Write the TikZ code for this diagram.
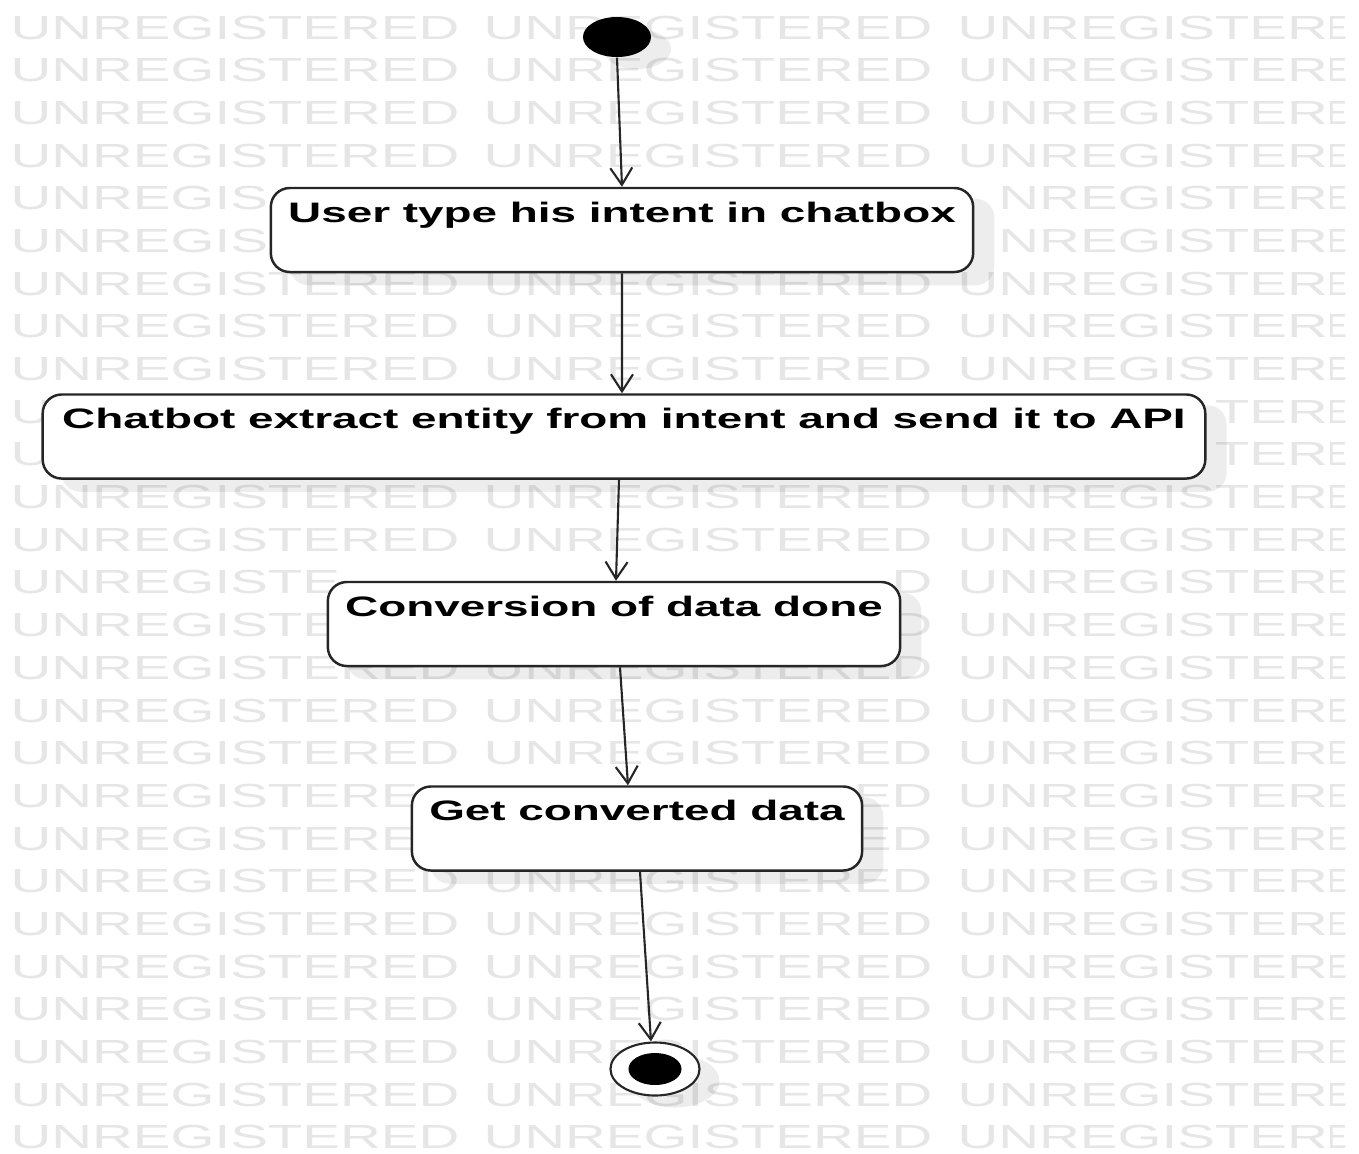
\documentclass[tikz,border=0pt]{standalone}
\usepackage{fontspec}
\setmainfont{Liberation Sans}
\usetikzlibrary{arrows.meta,calc,shapes.geometric}
\pgfdeclarelayer{bg}
\pgfsetlayers{bg,main}
\definecolor{wm}{HTML}{E6E6E6}
\tikzset{
  act/.style={draw=black!85, line width=0.7pt, fill=white, rounded corners=0.19cm,
    inner xsep=0pt, inner ysep=0pt, text height=0.34cm, text depth=0.50cm,
    font=\bfseries\fontsize{8}{9}\selectfont},
  flow/.style={draw=black!85, line width=0.6pt, -{Straight Barb[length=0.17cm,width=0.22cm,line width=0.6pt]}},
  shadowbox/.style={fill=black, opacity=0.07, rounded corners=0.19cm},
  wmtext/.style={text=wm, inner sep=0pt, anchor=base west, font=\fontsize{9.5}{10}\selectfont}
}
\newcommand{\stretchtxt}[1]{\scalebox{1.63}[1]{#1}}
\newcommand{\wmw}[1]{\scalebox{1.69}[1]{#1}}
\newcommand{\wmph}[1]{\phantom{\wmw{#1}}}
\newcommand{\wmend}{\scalebox{0.85}[1]{E}}
\newcommand{\wmrow}[5]{%
  \node[wmtext] (wm-#1-a) at (10,#2) {#3};
  \node[wmtext] (wm-#1-b) at (483,#2) {#4};
  \node[wmtext] (wm-#1-c) at (957,#2) {#5};}
\begin{document}
\begin{tikzpicture}[x=0.01cm,y=-0.01cm]
\useasboundingbox (0,0) rectangle (1359,1153);
% watermark
\begin{pgfonlayer}{bg}
\fill[white] (0,0) rectangle (1359,1153);
\foreach \r in {0,...,26}{
  \pgfmathsetmacro{\yy}{39+42.69*\r}
  \ifnum\r=4 \wmrow{\r}{\yy}{\wmw{UNREGIS}}{}{\wmph{U}\wmw{NREGISTER}\wmend}
  \else\ifnum\r=5 \wmrow{\r}{\yy}{\wmw{UNREGIS}}{}{\wmph{U}\wmw{NREGISTER}\wmend}
  \else\ifnum\r=9 \wmrow{\r}{\yy}{\wmw{U}}{}{\wmph{UNREGIS}\wmw{TER}\wmend}
  \else\ifnum\r=10 \wmrow{\r}{\yy}{\wmw{U}}{}{\wmph{UNREGIS}\wmw{TER}\wmend}
  \else\ifnum\r=13 \wmrow{\r}{\yy}{\wmw{UNREGISTE}}{\wmph{UNREGISTERE}\wmw{D}}{\wmw{UNREGISTER}\wmend}
  \else\ifnum\r=14 \wmrow{\r}{\yy}{\wmw{UNREGISTE}}{\wmph{UNREGISTERE}\wmw{D}}{\wmw{UNREGISTER}\wmend}
  \else\ifnum\r=18 \wmrow{\r}{\yy}{\wmw{UNREGISTERE}}{\wmph{UNREGISTER}\wmw{ED}}{\wmw{UNREGISTER}\wmend}
  \else\ifnum\r=19 \wmrow{\r}{\yy}{\wmw{UNREGISTERE}}{\wmph{UNREGISTER}\wmw{ED}}{\wmw{UNREGISTER}\wmend}
  \else \wmrow{\r}{\yy}{\wmw{UNREGISTERED}}{\wmw{UNREGISTERED}}{\wmw{UNREGISTER}\wmend}
  \fi\fi\fi\fi\fi\fi\fi\fi
}
\end{pgfonlayer}

% initial and final nodes
\node[draw=none, fill=black, ellipse, minimum width=0.68cm, minimum height=0.40cm, inner sep=0pt] (start) at (617,37) {};
\node[draw=black!85, line width=0.6pt, fill=white, ellipse, minimum width=0.89cm, minimum height=0.53cm, inner sep=0pt] (end) at (655,1069) {};
\node[fill=black, ellipse, minimum width=0.53cm, minimum height=0.32cm, inner sep=0pt] (endin) at (655,1069) {};

% activities
\node[act, minimum width=7.02cm] (b1) at (622,230) {\stretchtxt{User type his intent in chatbox}};
\node[act, minimum width=11.62cm] (b2) at (624,436.5) {\stretchtxt{Chatbot extract entity from intent and send it to API}};
\node[act, minimum width=5.72cm] (b3) at (614,624) {\stretchtxt{Conversion of data done}};
\node[act, minimum width=4.50cm] (b4) at (637,828.5) {\stretchtxt{Get converted data}};

% shadows
\begin{pgfonlayer}{bg}
\foreach \n in {b1,b2,b3,b4}{
  \fill[shadowbox] ([xshift=0.2cm,yshift=-0.12cm]\n.south west) rectangle ([xshift=0.2cm,yshift=-0.12cm]\n.north east);
}
\fill[black, opacity=0.07] ([xshift=0.2cm,yshift=-0.12cm]start.center) ellipse [x radius=0.34cm, y radius=0.20cm];
\fill[black, opacity=0.07] ([xshift=0.2cm,yshift=-0.12cm]end.center) ellipse [x radius=0.445cm, y radius=0.265cm];
\end{pgfonlayer}

% flows
\draw[flow] (start.south) -- (b1.north);
\draw[flow] (b1.south) -- ([xshift=-0.02cm]b2.north);
\draw[flow] ([xshift=-0.05cm]b2.south) -- ([xshift=0.02cm]b3.north);
\draw[flow] ([xshift=0.06cm]b3.south) -- ([xshift=-0.09cm]b4.north);
\draw[flow] ([xshift=0.03cm]b4.south) -- ([xshift=-0.04cm]end.north);
\end{tikzpicture}
\end{document}
